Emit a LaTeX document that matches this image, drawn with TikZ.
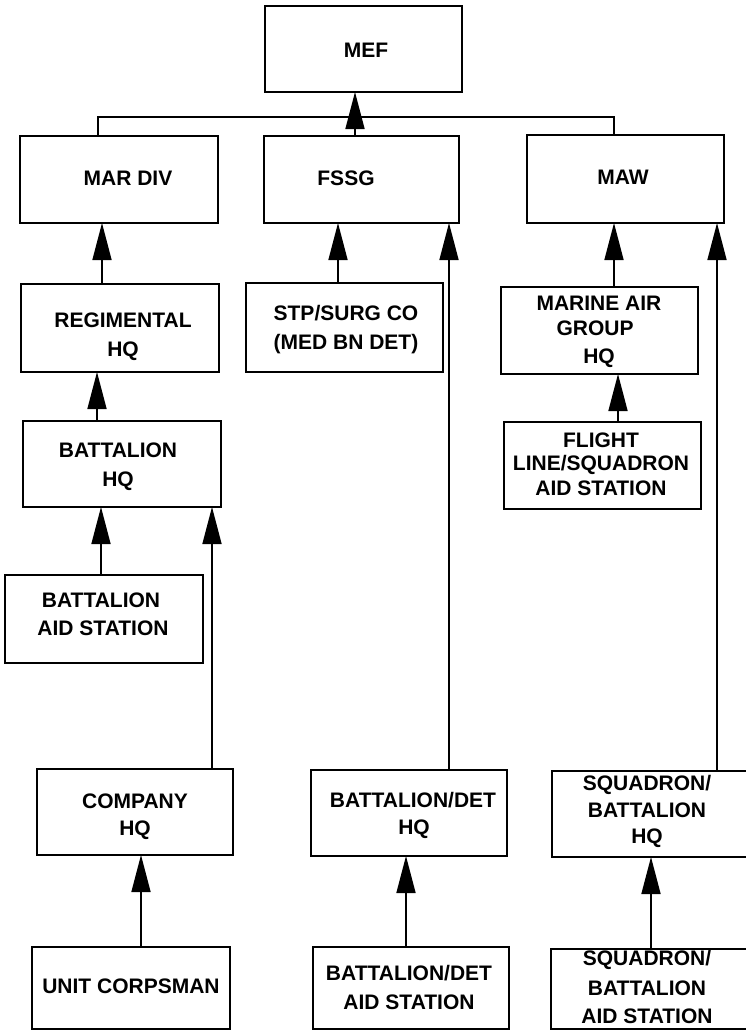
\documentclass[tikz,border=0pt]{standalone}
\usepackage{fontspec}
\setmainfont{Liberation Sans}
\usetikzlibrary{arrows.meta}
\begin{document}
\begin{tikzpicture}[x=1pt,y=-1pt,
  box/.style={draw=black,line width=2.2pt,inner sep=0pt,outer sep=0pt,fill=none},
  lbl/.style={anchor=base,inner sep=0pt,font=\fontsize{21}{24}\selectfont\bfseries},
  arr/.style={line width=1.6pt,-{Triangle[length=37pt,width=19pt]}},
  ln/.style={line width=1.6pt}]
\useasboundingbox (0,0) rectangle (745,1031);
% boxes
\node[box,minimum width=197pt,minimum height=86pt] (mef) at (363.5,49) {};
\node[box,minimum width=198pt,minimum height=87pt] (mardiv) at (119,179.5) {};
\node[box,minimum width=195pt,minimum height=87pt] (fssg) at (361.5,179.5) {};
\node[box,minimum width=197pt,minimum height=88pt] (maw) at (625.5,179) {};
\node[box,minimum width=198pt,minimum height=88pt] (reg) at (120,328) {};
\node[box,minimum width=197pt,minimum height=89pt] (stp) at (344.5,327.5) {};
\node[box,minimum width=197pt,minimum height=87pt] (mag) at (599.5,330.5) {};
\node[box,minimum width=198pt,minimum height=86pt] (bn) at (122,464) {};
\node[box,minimum width=197pt,minimum height=87pt] (flight) at (602.5,465.5) {};
\node[box,minimum width=198pt,minimum height=88pt] (bas) at (104,619) {};
\node[box,minimum width=196pt,minimum height=86pt] (coy) at (135,812) {};
\node[box,minimum width=196pt,minimum height=86pt] (bdhq) at (409,813) {};
\node[box,minimum width=198pt,minimum height=86pt] (sqhq) at (651,814) {};
\node[box,minimum width=198pt,minimum height=82pt] (uc) at (131,988) {};
\node[box,minimum width=196pt,minimum height=82pt] (bdas) at (411,988) {};
\node[box,minimum width=199pt,minimum height=80pt] (sqas) at (650.5,989) {};
% texts
\node[lbl] (t1) at (366,57) {MEF};
\node[lbl] (t2) at (128,185) {MAR DIV};
\node[lbl] (t3) at (346,185) {FSSG};
\node[lbl] (t4) at (623,184) {MAW};
\node[lbl] (t5) at (123,327) {REGIMENTAL};
\node[lbl] (t6) at (123,356) {HQ};
\node[lbl] (t7) at (346,320) {STP/SURG CO};
\node[lbl] (t8) at (346,349) {(MED BN DET)};
\node[lbl] (t9) at (599,310) {MARINE AIR};
\node[lbl] (t10) at (595,335) {GROUP};
\node[lbl] (t11) at (599,363) {HQ};
\node[lbl] (t12) at (118,457) {BATTALION};
\node[lbl] (t13) at (118,486) {HQ};
\node[lbl] (t14) at (601,447) {FLIGHT};
\node[lbl] (t15) at (601,470) {LINE/SQUADRON};
\node[lbl] (t16) at (601,495) {AID STATION};
\node[lbl] (t17) at (101,607) {BATTALION};
\node[lbl] (t18) at (103,635) {AID STATION};
\node[lbl] (t19) at (135,808) {COMPANY};
\node[lbl] (t20) at (135,835) {HQ};
\node[lbl] (t21) at (413,807) {BATTALION/DET};
\node[lbl] (t22) at (414,834) {HQ};
\node[lbl] (t23) at (647,790) {SQUADRON/};
\node[lbl] (t24) at (647,817) {BATTALION};
\node[lbl] (t25) at (647,843) {HQ};
\node[lbl] (t26) at (131,993) {UNIT CORPSMAN};
\node[lbl] (t27) at (409,980) {BATTALION/DET};
\node[lbl] (t28) at (409,1009) {AID STATION};
\node[lbl] (t29) at (647,965) {SQUADRON/};
\node[lbl] (t30) at (647,995) {BATTALION};
\node[lbl] (t31) at (647,1023) {AID STATION};
% top tree line
\coordinate (j) at (355,117);
\draw[ln] ([xshift=-21pt]mardiv.north) |- (j) -| ([xshift=-11.5pt]maw.north);
% arrows
\draw[arr] ([xshift=-6.5pt]fssg.north) -- ([xshift=-6.5pt]fssg.north |- mef.south);
\draw[arr] ([xshift=-18pt]reg.north) -- ([xshift=-18pt]reg.north |- mardiv.south);
\draw[arr] ([xshift=-6.5pt]stp.north) -- ([xshift=-6.5pt]stp.north |- fssg.south);
\draw[arr] ([xshift=40pt]bdhq.north) -- ([xshift=40pt]bdhq.north |- fssg.south);
\draw[arr] ([xshift=14.5pt]mag.north) -- ([xshift=14.5pt]mag.north |- maw.south);
\draw[arr] ([xshift=66pt]sqhq.north) -- ([xshift=66pt]sqhq.north |- maw.south);
\draw[arr] ([xshift=-25pt]bn.north) -- ([xshift=-25pt]bn.north |- reg.south);
\draw[arr] ([xshift=15.5pt]flight.north) -- ([xshift=15.5pt]flight.north |- mag.south);
\draw[arr] ([xshift=-3pt]bas.north) -- ([xshift=-3pt]bas.north |- bn.south);
\draw[arr] ([xshift=77pt]coy.north) -- ([xshift=77pt]coy.north |- bn.south);
\draw[arr] ([xshift=10pt]uc.north) -- ([xshift=10pt]uc.north |- coy.south);
\draw[arr] ([xshift=-5pt]bdas.north) -- ([xshift=-5pt]bdas.north |- bdhq.south);
\draw[arr] ([xshift=0.5pt]sqas.north) -- ([xshift=0.5pt]sqas.north |- sqhq.south);
\end{tikzpicture}
\end{document}
